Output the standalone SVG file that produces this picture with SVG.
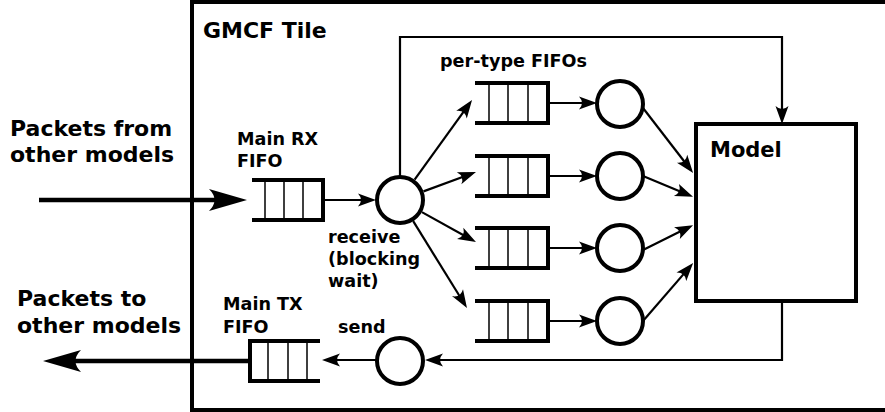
<svg xmlns="http://www.w3.org/2000/svg" width="885" height="412" viewBox="0 0 885 412">
<style>
text{font-family:"DejaVu Sans","Liberation Sans",sans-serif;font-weight:bold;fill:#000}
.lbl{font-size:17.6px}
.big{font-size:22px}
.thick{fill:none;stroke:#000;stroke-width:4}
.div{stroke:#000;stroke-width:1.5}
.node{fill:#fff;stroke:#000;stroke-width:4}
.conn{fill:none;stroke:#000;stroke-width:2.2}
.bigconn{fill:none;stroke:#000;stroke-width:4.5}
</style>
<defs>
<marker id="ah" markerUnits="userSpaceOnUse" viewBox="-20 -8 21 16" markerWidth="21" markerHeight="16" refX="-10" refY="0" orient="auto">
<path d="M0,0 L-18,-6.5 Q-12,0 -18,6.5 Z" fill="#000"/>
</marker>
<marker id="bah" markerUnits="userSpaceOnUse" viewBox="-40 -12 41 24" markerWidth="41" markerHeight="24" refX="-20" refY="0" orient="auto">
<path d="M0,0 L-38,-11 Q-27,0 -38,11 Z" fill="#000"/>
</marker>
</defs>
<rect x="0" y="0" width="885" height="412" fill="#fff"/>

<g id="tile">
<rect x="192" y="2" width="720" height="408" class="thick"/>
<text x="203" y="38" style="font-size:22px">GMCF Tile</text>
</g>

<g id="connectors">
<line x1="39" y1="200" x2="227" y2="200" class="bigconn" marker-end="url(#bah)"/>
<line x1="323" y1="200" x2="366" y2="200" class="conn" marker-end="url(#ah)"/>
<path d="M400,177 V37 H782 V114" class="conn" marker-end="url(#ah)"/>
<line x1="414.6" y1="179.7" x2="466.2" y2="108.1" class="conn" marker-end="url(#ah)"/>
<line x1="423.5" y1="191.4" x2="466.6" y2="175.5" class="conn" marker-end="url(#ah)"/>
<line x1="421.9" y1="212.1" x2="467.2" y2="237.2" class="conn" marker-end="url(#ah)"/>
<line x1="413.2" y1="221.2" x2="461.7" y2="299.5" class="conn" marker-end="url(#ah)"/>
<line x1="548" y1="103" x2="587" y2="103" class="conn" marker-end="url(#ah)"/>
<line x1="548" y1="176" x2="587" y2="176" class="conn" marker-end="url(#ah)"/>
<line x1="548" y1="248" x2="587" y2="248" class="conn" marker-end="url(#ah)"/>
<line x1="548" y1="321" x2="587" y2="321" class="conn" marker-end="url(#ah)"/>
<line x1="643" y1="108" x2="687" y2="165" class="conn" marker-end="url(#ah)"/>
<line x1="643" y1="176" x2="683.8" y2="193" class="conn" marker-end="url(#ah)"/>
<line x1="643" y1="250" x2="684.1" y2="229.6" class="conn" marker-end="url(#ah)"/>
<line x1="643" y1="321" x2="686.6" y2="270.6" class="conn" marker-end="url(#ah)"/>
<path d="M782,301 V360 H435" class="conn" marker-end="url(#ah)"/>
<line x1="376" y1="360" x2="332" y2="360" class="conn" marker-end="url(#ah)"/>
<line x1="250" y1="361" x2="63" y2="361" class="bigconn" marker-end="url(#bah)"/>
</g>

<g id="in-label">
<text x="10" y="136" class="big">Packets from</text>
<text x="10" y="162" class="big">other models</text>
</g>
<g id="out-label">
<text x="17" y="306" class="big">Packets to</text>
<text x="17" y="333" class="big">other models</text>
</g>

<g id="rx-fifo">
<path d="M252,180 H323 V220 H252" class="thick"/>
<path d="M265,180 V220 M284,180 V220 M303,180 V220" class="div"/>
<text x="237" y="145" class="lbl">Main RX</text>
<text x="237" y="167" class="lbl">FIFO</text>
</g>

<g id="receive">
<circle cx="400" cy="200" r="23" class="node"/>
<text x="328" y="243" class="lbl">receive</text>
<text x="328" y="265" class="lbl">(blocking</text>
<text x="328" y="287" class="lbl">wait)</text>
</g>

<g id="per-type-label">
<text x="440" y="67" class="lbl">per-type FIFOs</text>
</g>

<g id="fifo1">
<path d="M475,83 H548 V123 H475" class="thick"/>
<path d="M489,83 V123 M508,83 V123 M528,83 V123" class="div"/>
</g>
<g id="fifo2">
<path d="M475,156 H548 V196 H475" class="thick"/>
<path d="M489,156 V196 M508,156 V196 M528,156 V196" class="div"/>
</g>
<g id="fifo3">
<path d="M475,228 H548 V268 H475" class="thick"/>
<path d="M489,228 V268 M508,228 V268 M528,228 V268" class="div"/>
</g>
<g id="fifo4">
<path d="M475,301 H548 V341 H475" class="thick"/>
<path d="M489,301 V341 M508,301 V341 M528,301 V341" class="div"/>
</g>

<g id="proc1"><circle cx="620" cy="104" r="23" class="node"/></g>
<g id="proc2"><circle cx="620" cy="176" r="23" class="node"/></g>
<g id="proc3"><circle cx="620" cy="248" r="23" class="node"/></g>
<g id="proc4"><circle cx="620" cy="321" r="23" class="node"/></g>

<g id="model">
<rect x="696" y="124" width="160" height="177" class="node"/>
<text x="710" y="157" style="font-size:21px">Model</text>
</g>

<g id="send">
<circle cx="400" cy="361" r="23" class="node"/>
<text x="338" y="333" class="lbl">send</text>
</g>

<g id="tx-fifo">
<path d="M320,341 H250 V381 H320" class="thick"/>
<path d="M268,341 V381 M288,341 V381 M307,341 V381" class="div"/>
<text x="223" y="310" class="lbl">Main TX</text>
<text x="223" y="333" class="lbl">FIFO</text>
</g>
</svg>
